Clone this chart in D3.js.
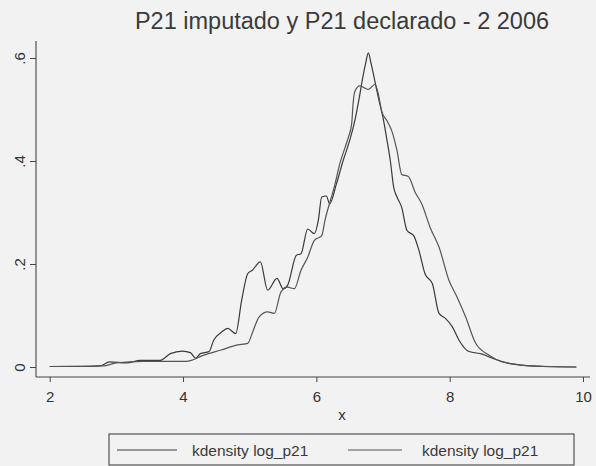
<!DOCTYPE html>
<html>
<head>
<meta charset="utf-8">
<script src="https://cdn.jsdelivr.net/npm/d3@7"></script>
<style>
  body { margin: 0; background: #f2f2f2; }
  svg { display: block; font-family: "Liberation Sans", Arial, sans-serif; }
  .graph__title { font-size: 23.5px; fill: #3a3a3a; }
  .tick text { font-size: 15px; fill: #333; }
  .legend__text { font-size: 15.5px; fill: #3a3a3a; }
</style>
</head>
<body>
<svg class="kdensity-frame"></svg>
<script>
// kdensity log_p21 (imputado)
const imputadoX = [2.0, 2.5, 2.75, 2.9, 3.16, 3.36, 3.66, 3.81, 3.99, 4.11, 4.19, 4.26, 4.39, 4.46, 4.58, 4.67, 4.79, 4.88, 4.97, 5.04, 5.16, 5.27, 5.41, 5.50, 5.57, 5.70, 5.77, 5.87, 5.97, 6.03, 6.08, 6.15, 6.2, 6.3, 6.4, 6.5, 6.58, 6.64, 6.7, 6.74, 6.78, 6.82, 6.87, 6.93, 7.0, 7.06, 7.11, 7.16, 7.21, 7.28, 7.36, 7.46, 7.54, 7.63, 7.74, 7.84, 7.94, 8.04, 8.14, 8.29, 8.49, 8.64, 8.89, 9.1, 9.4, 9.9];
const imputadoY = [0.001, 0.001, 0.002, 0.01, 0.008, 0.013, 0.013, 0.026, 0.031, 0.028, 0.017, 0.026, 0.03, 0.052, 0.068, 0.075, 0.065, 0.13, 0.181, 0.188, 0.204, 0.149, 0.172, 0.152, 0.159, 0.217, 0.22, 0.268, 0.259, 0.285, 0.33, 0.332, 0.317, 0.355, 0.40, 0.44, 0.48, 0.52, 0.565, 0.59, 0.61, 0.59, 0.56, 0.523, 0.484, 0.44, 0.40, 0.349, 0.33, 0.31, 0.265, 0.255, 0.226, 0.181, 0.162, 0.104, 0.094, 0.078, 0.052, 0.030, 0.025, 0.017, 0.007, 0.003, 0.001, 0.0];

// kdensity log_p21 (declarado)
const declaradoX = [2.0, 2.8, 3.0, 3.4, 3.7, 4.0, 4.1, 4.31, 4.57, 4.82, 4.97, 5.05, 5.14, 5.27, 5.37, 5.47, 5.57, 5.67, 5.77, 5.87, 5.97, 6.08, 6.13, 6.28, 6.35, 6.43, 6.48, 6.53, 6.55, 6.58, 6.65, 6.72, 6.78, 6.88, 6.93, 6.98, 7.06, 7.13, 7.21, 7.28, 7.38, 7.48, 7.58, 7.71, 7.84, 7.99, 8.11, 8.24, 8.39, 8.59, 8.79, 8.94, 9.2, 9.5, 9.9];
const declaradoY = [0.001, 0.002, 0.008, 0.011, 0.011, 0.011, 0.012, 0.023, 0.033, 0.043, 0.046, 0.07, 0.097, 0.107, 0.104, 0.146, 0.155, 0.152, 0.188, 0.213, 0.246, 0.255, 0.285, 0.355, 0.394, 0.426, 0.446, 0.472, 0.51, 0.536, 0.546, 0.542, 0.539, 0.549, 0.53, 0.497, 0.478, 0.459, 0.42, 0.374, 0.37, 0.34, 0.317, 0.27, 0.233, 0.168, 0.136, 0.097, 0.046, 0.023, 0.010, 0.006, 0.002, 0.001, 0.0];

const xTicks = [2, 4, 6, 8, 10];
const yTicks = [0, 0.2, 0.4, 0.6];
const yTickLabels = ["0", ".2", ".4", ".6"];
const legendLabels = ["kdensity log_p21", "kdensity log_p21"];

const width = 596, height = 466;

const svg = d3.select(".kdensity-frame")
  .attr("width", width)
  .attr("height", height)

svg.append("text")
  .attr("x", 342)
  .attr("y", 29)
  .attr("text-anchor", "middle")
  .attr("class", "graph__title")
  .text("P21 imputado y P21 declarado - 2 2006")

const xScale = d3.scaleLinear()
  .domain([2, 10])
  .range([49.7, 583]);

const yScale = d3.scaleLinear()
  .domain([0, 0.6])
  .range([367, 58]);

// axes sit a little outside the data region, like Stata draws them
const xAxis = d3.axisBottom(xScale)
  .tickValues(xTicks)
  .tickSize(5)
  .tickPadding(9)
  .tickFormat(d3.format("d"));

const yAxis = d3.axisLeft(yScale)
  .tickValues(yTicks)
  .tickSize(6)
  .tickFormat((d, i) => yTickLabels[i]);

const gx = svg.append("g")
  .attr("transform", "translate(0,377)")
  .call(xAxis)
gx.select(".domain").remove()
gx.append("line")
  .attr("x1", 36).attr("x2", 590)
  .attr("stroke", "#444").attr("stroke-width", 1.1)
gx.selectAll(".tick line").attr("stroke", "#444")

const gy = svg.append("g")
  .attr("transform", "translate(36,0)")
  .call(yAxis)
gy.select(".domain").remove()
gy.append("line")
  .attr("y1", 41).attr("y2", 377)
  .attr("stroke", "#444").attr("stroke-width", 1.1)
gy.selectAll(".tick line").attr("stroke", "#444")
gy.selectAll(".tick text")
  .attr("x", 0).attr("y", 0).attr("dy", null)
  .attr("text-anchor", "middle")
  .attr("dominant-baseline", "central")
  .attr("transform", "translate(-17,0) rotate(-90)")

svg.append("text")
  .attr("x", 342)
  .attr("y", 420)
  .attr("text-anchor", "middle")
  .style("font-size", "15px")
  .style("fill", "#333")
  .text("x")

const line = d3.line()
  .x((d) => xScale(d[0]))
  .y((d) => yScale(d[1]))
  .curve(d3.curveMonotoneX);

const series = [
  imputadoX.map((x, i) => [x, imputadoY[i]]),
  declaradoX.map((x, i) => [x, declaradoY[i]])
];

svg.selectAll(".curve")
  .data(series)
  .enter().append("path")
  .attr("class", "curve")
  .attr("fill", "none")
  .attr("stroke", (d, i) => i === 0 ? "#3a3a3a" : "#555")
  .attr("stroke-width", 1.2)
  .attr("d", line);

// legend
const legend = svg.append("g").attr("class", "legend")
legend.append("rect")
  .attr("x", 109).attr("y", 434)
  .attr("width", 465).attr("height", 31)
  .attr("fill", "none")
  .attr("stroke", "#444")
  .attr("stroke-width", 1.1)

const legendItems = [
  {x1: 117, x2: 177, tx: 192},
  {x1: 348, x2: 402, tx: 422}
];

legend.selectAll(".legend__line")
  .data(legendItems)
  .enter().append("line")
  .attr("x1", (d) => d.x1).attr("x2", (d) => d.x2)
  .attr("y1", 450).attr("y2", 450)
  .attr("stroke", (d, i) => i === 0 ? "#3a3a3a" : "#555")
  .attr("stroke-width", 1.2)

legend.selectAll(".legend__text")
  .data(legendItems)
  .enter().append("text")
  .attr("class", "legend__text")
  .attr("x", (d) => d.tx)
  .attr("y", 456)
  .text((d, i) => legendLabels[i])
</script>
</body>
</html>
